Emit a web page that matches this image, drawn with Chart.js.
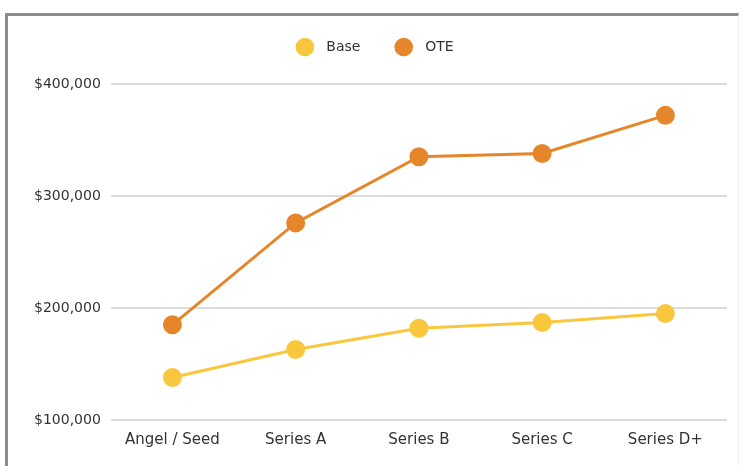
<!DOCTYPE html>
<html>
<head>
<meta charset="utf-8">
<script src="https://cdn.jsdelivr.net/npm/chart.js@4/dist/chart.umd.min.js"></script>
<style>
  html, body { margin: 0; padding: 0; background: #fff; }
  body { width: 743px; height: 466px; overflow: hidden; position: relative; }
  #frame {
    position: absolute; left: 5px; top: 13px; right: 4px; bottom: 0;
    border-left: 3px solid #8c8c8c; border-top: 3px solid #8c8c8c;
    border-right: 1px solid #f0f0f0;
  }
  #wrap { position: absolute; left: 0; top: 0; right: 0; bottom: 0; }
</style>
</head>
<body>
<div id="frame"><div id="wrap"><canvas id="pay"></canvas></div></div>
<script>
const stages = ['Angel / Seed', 'Series A', 'Series B', 'Series C', 'Series D+'];
const base = [138000, 163000, 182000, 187000, 195000];
const ote = [185000, 276000, 335000, 338000, 372000];

const BASE_COLOR = '#f9c73d';
const OTE_COLOR = '#e6862a';

Chart.defaults.font.family = '"DejaVu Sans", Verdana, sans-serif';
Chart.defaults.font.size = 14;
Chart.defaults.color = '#333';
Chart.defaults.animation = false;

function series(label, values, color) {
  return {
    label: label,
    data: values,
    borderColor: color,
    backgroundColor: color,
    pointBackgroundColor: color,
    pointBorderColor: color,
    borderWidth: 3,
    pointRadius: 8,
    pointHoverRadius: 8,
    tension: 0,
  };
}

// extra room between the legend and the plot
const legendGap = {
  id: 'legendGap',
  beforeInit(chart) {
    const fit = chart.legend.fit;
    chart.legend.fit = function () {
      fit.call(this);
      this.height += 20;
    };
  },
};

new Chart(document.getElementById('pay'), {
  type: 'line',
  data: {
    labels: stages,
    datasets: [series('Base', base, BASE_COLOR), series('OTE', ote, OTE_COLOR)],
  },
  plugins: [legendGap],
  options: {
    responsive: true,
    maintainAspectRatio: false,
    layout: { padding: { left: 16, right: 9, top: 4, bottom: 14 } },
    plugins: {
      legend: {
        labels: {
          usePointStyle: true,
          pointStyle: 'circle',
          boxWidth: 11,
          boxHeight: 11,
          padding: 20,
          color: '#333',
          font: { size: 14 },
          generateLabels(chart) {
            const items = Chart.defaults.plugins.legend.labels.generateLabels(chart);
            items.forEach((it, i) => {
              it.text = '  ' + it.text + (i < items.length - 1 ? '    ' : '');
            });
            return items;
          },
        },
      },
      tooltip: { enabled: false },
    },
    scales: {
      x: {
        offset: true,
        grid: { display: false },
        border: { display: false },
        ticks: { padding: 3, color: '#333', font: { size: 15 } },
      },
      y: {
        min: 100000,
        max: 400000,
        grid: { color: '#dcdcdc', lineWidth: 2, drawTicks: false },
        border: { display: false },
        ticks: {
          stepSize: 100000,
          padding: 10,
          color: '#333',
          font: { size: 14 },
          callback: v => '$' + v.toLocaleString('en-US'),
        },
      },
    },
  },
});
</script>
</body>
</html>
